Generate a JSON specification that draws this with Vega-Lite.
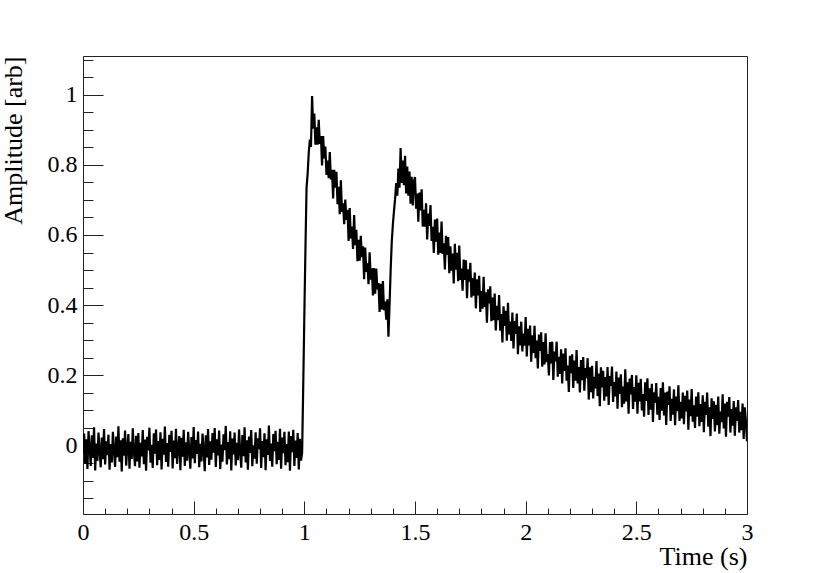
{
"$schema": "https://vega.github.io/schema/vega-lite/v6.json",
"autosize": "none",
"width": 664,
"height": 458,
"padding": {"left": 83, "top": 56, "right": 83, "bottom": 59},
"background": "white",
"config": {
  "view": {"stroke": "#222", "strokeWidth": 1},
  "axis": {"labelFont": "Liberation Serif", "titleFont": "Liberation Serif", "grid": false, "domain": false, "labelColor": "#000", "titleColor": "#000", "tickColor": "#222", "tickWidth": 1}
},
"data": {"values": [
{"t":0,"a":-0.021},{"t":0.005,"a":0.034},{"t":0.01,"a":-0.052},{"t":0.015,"a":0.018},{"t":0.02,"a":-0.067},{"t":0.025,"a":0.041},{"t":0.03,"a":-0.008},{"t":0.035,"a":-0.058},{"t":0.04,"a":0.029},{"t":0.045,"a":-0.035},
{"t":0.05,"a":0.052},{"t":0.055,"a":-0.071},{"t":0.06,"a":0.006},{"t":0.065,"a":-0.044},{"t":0.07,"a":0.037},{"t":0.075,"a":-0.016},{"t":0.08,"a":-0.062},{"t":0.085,"a":0.023},{"t":0.09,"a":-0.039},{"t":0.095,"a":0.047},
{"t":0.1,"a":-0.054},{"t":0.105,"a":0.012},{"t":0.11,"a":-0.027},{"t":0.115,"a":0.031},{"t":0.12,"a":-0.069},{"t":0.125,"a":0.004},{"t":0.13,"a":-0.048},{"t":0.135,"a":0.039},{"t":0.14,"a":-0.012},{"t":0.145,"a":-0.061},
{"t":0.15,"a":0.026},{"t":0.155,"a":-0.033},{"t":0.16,"a":0.055},{"t":0.165,"a":-0.046},{"t":0.17,"a":0.015},{"t":0.175,"a":-0.074},{"t":0.18,"a":0.021},{"t":0.185,"a":-0.029},{"t":0.19,"a":0.043},{"t":0.195,"a":-0.057},
{"t":0.2,"a":-0.004},{"t":0.205,"a":0.033},{"t":0.21,"a":-0.066},{"t":0.215,"a":0.011},{"t":0.22,"a":-0.038},{"t":0.225,"a":0.049},{"t":0.23,"a":-0.019},{"t":0.235,"a":-0.059},{"t":0.24,"a":0.028},{"t":0.245,"a":-0.045},
{"t":0.25,"a":0.036},{"t":0.255,"a":-0.063},{"t":0.26,"a":0.008},{"t":0.265,"a":-0.031},{"t":0.27,"a":0.044},{"t":0.275,"a":-0.053},{"t":0.28,"a":0.017},{"t":0.285,"a":-0.072},{"t":0.29,"a":0.025},{"t":0.295,"a":-0.014},
{"t":0.3,"a":0.051},{"t":0.305,"a":-0.049},{"t":0.31,"a":0.002},{"t":0.315,"a":-0.064},{"t":0.32,"a":0.035},{"t":0.325,"a":-0.023},{"t":0.33,"a":0.046},{"t":0.335,"a":-0.056},{"t":0.34,"a":0.013},{"t":0.345,"a":-0.041},
{"t":0.35,"a":0.038},{"t":0.355,"a":-0.068},{"t":0.36,"a":0.019},{"t":0.365,"a":-0.026},{"t":0.37,"a":0.054},{"t":0.375,"a":-0.047},{"t":0.38,"a":0.007},{"t":0.385,"a":-0.06},{"t":0.39,"a":0.031},{"t":0.395,"a":-0.018},
{"t":0.4,"a":0.042},{"t":0.405,"a":-0.065},{"t":0.41,"a":0.014},{"t":0.415,"a":-0.036},{"t":0.42,"a":0.048},{"t":0.425,"a":-0.052},{"t":0.43,"a":-0.003},{"t":0.435,"a":0.027},{"t":0.44,"a":-0.07},{"t":0.445,"a":0.022},
{"t":0.45,"a":-0.032},{"t":0.455,"a":0.045},{"t":0.46,"a":-0.058},{"t":0.465,"a":0.009},{"t":0.47,"a":-0.043},{"t":0.475,"a":0.039},{"t":0.48,"a":-0.015},{"t":0.485,"a":-0.066},{"t":0.49,"a":0.024},{"t":0.495,"a":-0.037},
{"t":0.5,"a":0.053},{"t":0.505,"a":-0.05},{"t":0.51,"a":0.016},{"t":0.515,"a":-0.024},{"t":0.52,"a":0.04},{"t":0.525,"a":-0.062},{"t":0.53,"a":0.005},{"t":0.535,"a":-0.045},{"t":0.54,"a":0.034},{"t":0.545,"a":-0.011},
{"t":0.55,"a":-0.073},{"t":0.555,"a":0.029},{"t":0.56,"a":-0.034},{"t":0.565,"a":0.047},{"t":0.57,"a":-0.055},{"t":0.575,"a":0.012},{"t":0.58,"a":-0.04},{"t":0.585,"a":0.036},{"t":0.59,"a":-0.02},{"t":0.595,"a":0.05},
{"t":0.6,"a":-0.061},{"t":0.605,"a":0.018},{"t":0.61,"a":-0.028},{"t":0.615,"a":0.043},{"t":0.62,"a":-0.067},{"t":0.625,"a":0.003},{"t":0.63,"a":-0.046},{"t":0.635,"a":0.032},{"t":0.64,"a":-0.013},{"t":0.645,"a":0.056},
{"t":0.65,"a":-0.054},{"t":0.655,"a":0.01},{"t":0.66,"a":-0.039},{"t":0.665,"a":0.041},{"t":0.67,"a":-0.071},{"t":0.675,"a":0.02},{"t":0.68,"a":-0.025},{"t":0.685,"a":0.037},{"t":0.69,"a":-0.057},{"t":0.695,"a":0.008},
{"t":0.7,"a":-0.042},{"t":0.705,"a":0.046},{"t":0.71,"a":-0.017},{"t":0.715,"a":-0.063},{"t":0.72,"a":0.03},{"t":0.725,"a":-0.03},{"t":0.73,"a":0.052},{"t":0.735,"a":-0.048},{"t":0.74,"a":0.015},{"t":0.745,"a":-0.069},
{"t":0.75,"a":0.026},{"t":0.755,"a":-0.021},{"t":0.76,"a":0.044},{"t":0.765,"a":-0.059},{"t":0.77,"a":0.001},{"t":0.775,"a":-0.037},{"t":0.78,"a":0.038},{"t":0.785,"a":-0.052},{"t":0.79,"a":0.021},{"t":0.795,"a":-0.01},
{"t":0.8,"a":0.049},{"t":0.805,"a":-0.064},{"t":0.81,"a":0.013},{"t":0.815,"a":-0.033},{"t":0.82,"a":0.035},{"t":0.825,"a":-0.07},{"t":0.83,"a":0.018},{"t":0.835,"a":-0.027},{"t":0.84,"a":0.057},{"t":0.845,"a":-0.044},
{"t":0.85,"a":0.006},{"t":0.855,"a":-0.06},{"t":0.86,"a":0.033},{"t":0.865,"a":-0.016},{"t":0.87,"a":0.042},{"t":0.875,"a":-0.053},{"t":0.88,"a":0.011},{"t":0.885,"a":-0.041},{"t":0.89,"a":0.048},{"t":0.895,"a":-0.066},
{"t":0.9,"a":0.023},{"t":0.905,"a":-0.022},{"t":0.91,"a":0.039},{"t":0.915,"a":-0.056},{"t":0.92,"a":0.004},{"t":0.925,"a":-0.047},{"t":0.93,"a":0.04},{"t":0.935,"a":-0.072},{"t":0.94,"a":0.027},{"t":0.945,"a":-0.019},
{"t":0.95,"a":0.045},{"t":0.955,"a":-0.058},{"t":0.96,"a":0.014},{"t":0.965,"a":-0.035},{"t":0.97,"a":0.036},{"t":0.975,"a":-0.068},{"t":0.98,"a":0.019},{"t":0.985,"a":-0.043},{"t":0.99,"a":-0.02},{"t":0.995,"a":0.17},
{"t":1,"a":0.37},{"t":1.005,"a":0.56},{"t":1.01,"a":0.735},{"t":1.015,"a":0.775},{"t":1.02,"a":0.835},{"t":1.025,"a":0.872},{"t":1.03,"a":0.851},{"t":1.035,"a":0.996},{"t":1.04,"a":0.903},{"t":1.045,"a":0.946},
{"t":1.05,"a":0.857},{"t":1.055,"a":0.907},{"t":1.06,"a":0.857},{"t":1.065,"a":0.928},{"t":1.07,"a":0.86},{"t":1.075,"a":0.882},{"t":1.08,"a":0.798},{"t":1.085,"a":0.882},{"t":1.09,"a":0.818},{"t":1.095,"a":0.852},
{"t":1.1,"a":0.771},{"t":1.105,"a":0.812},{"t":1.11,"a":0.762},{"t":1.115,"a":0.836},{"t":1.12,"a":0.758},{"t":1.125,"a":0.786},{"t":1.13,"a":0.704},{"t":1.135,"a":0.786},{"t":1.14,"a":0.735},{"t":1.145,"a":0.78},
{"t":1.15,"a":0.688},{"t":1.155,"a":0.737},{"t":1.16,"a":0.659},{"t":1.165,"a":0.756},{"t":1.17,"a":0.666},{"t":1.175,"a":0.69},{"t":1.18,"a":0.631},{"t":1.185,"a":0.701},{"t":1.19,"a":0.643},{"t":1.195,"a":0.672},
{"t":1.2,"a":0.583},{"t":1.205,"a":0.677},{"t":1.21,"a":0.59},{"t":1.215,"a":0.624},{"t":1.22,"a":0.56},{"t":1.225,"a":0.657},{"t":1.23,"a":0.571},{"t":1.235,"a":0.615},{"t":1.24,"a":0.525},{"t":1.245,"a":0.586},
{"t":1.25,"a":0.527},{"t":1.255,"a":0.598},{"t":1.26,"a":0.537},{"t":1.265,"a":0.568},{"t":1.27,"a":0.474},{"t":1.275,"a":0.564},{"t":1.28,"a":0.495},{"t":1.285,"a":0.519},{"t":1.29,"a":0.46},{"t":1.295,"a":0.551},
{"t":1.3,"a":0.473},{"t":1.305,"a":0.505},{"t":1.31,"a":0.428},{"t":1.315,"a":0.506},{"t":1.32,"a":0.433},{"t":1.325,"a":0.504},{"t":1.33,"a":0.445},{"t":1.335,"a":0.463},{"t":1.34,"a":0.381},{"t":1.345,"a":0.461},
{"t":1.35,"a":0.388},{"t":1.355,"a":0.469},{"t":1.36,"a":0.386},{"t":1.365,"a":0.41},{"t":1.37,"a":0.359},{"t":1.375,"a":0.417},{"t":1.38,"a":0.31},{"t":1.385,"a":0.4},{"t":1.39,"a":0.5},{"t":1.395,"a":0.58},
{"t":1.4,"a":0.63},{"t":1.405,"a":0.668},{"t":1.41,"a":0.702},{"t":1.415,"a":0.748},{"t":1.42,"a":0.712},{"t":1.425,"a":0.789},{"t":1.43,"a":0.735},{"t":1.435,"a":0.848},{"t":1.44,"a":0.748},{"t":1.445,"a":0.812},
{"t":1.45,"a":0.742},{"t":1.455,"a":0.826},{"t":1.46,"a":0.718},{"t":1.465,"a":0.795},{"t":1.47,"a":0.712},{"t":1.475,"a":0.781},{"t":1.48,"a":0.689},{"t":1.485,"a":0.766},{"t":1.49,"a":0.684},{"t":1.495,"a":0.752},
{"t":1.5,"a":0.765},{"t":1.505,"a":0.675},{"t":1.51,"a":0.718},{"t":1.515,"a":0.638},{"t":1.52,"a":0.721},{"t":1.525,"a":0.67},{"t":1.53,"a":0.73},{"t":1.535,"a":0.624},{"t":1.54,"a":0.672},{"t":1.545,"a":0.624},
{"t":1.55,"a":0.69},{"t":1.555,"a":0.587},{"t":1.56,"a":0.661},{"t":1.565,"a":0.626},{"t":1.57,"a":0.685},{"t":1.575,"a":0.583},{"t":1.58,"a":0.623},{"t":1.585,"a":0.549},{"t":1.59,"a":0.644},{"t":1.595,"a":0.581},
{"t":1.6,"a":0.647},{"t":1.605,"a":0.544},{"t":1.61,"a":0.607},{"t":1.615,"a":0.549},{"t":1.62,"a":0.638},{"t":1.625,"a":0.546},{"t":1.63,"a":0.576},{"t":1.635,"a":0.502},{"t":1.64,"a":0.598},{"t":1.645,"a":0.543},
{"t":1.65,"a":0.594},{"t":1.655,"a":0.491},{"t":1.66,"a":0.568},{"t":1.665,"a":0.498},{"t":1.67,"a":0.547},{"t":1.675,"a":0.462},{"t":1.68,"a":0.575},{"t":1.685,"a":0.501},{"t":1.69,"a":0.549},{"t":1.695,"a":0.468},
{"t":1.7,"a":0.57},{"t":1.705,"a":0.472},{"t":1.71,"a":0.504},{"t":1.715,"a":0.441},{"t":1.72,"a":0.53},{"t":1.725,"a":0.472},{"t":1.73,"a":0.528},{"t":1.735,"a":0.42},{"t":1.74,"a":0.502},{"t":1.745,"a":0.467},
{"t":1.75,"a":0.521},{"t":1.755,"a":0.422},{"t":1.76,"a":0.477},{"t":1.765,"a":0.427},{"t":1.77,"a":0.493},{"t":1.775,"a":0.391},{"t":1.78,"a":0.474},{"t":1.785,"a":0.428},{"t":1.79,"a":0.484},{"t":1.795,"a":0.381},
{"t":1.8,"a":0.44},{"t":1.805,"a":0.39},{"t":1.81,"a":0.481},{"t":1.815,"a":0.395},{"t":1.82,"a":0.437},{"t":1.825,"a":0.35},{"t":1.83,"a":0.445},{"t":1.835,"a":0.405},{"t":1.84,"a":0.454},{"t":1.845,"a":0.354},
{"t":1.85,"a":0.422},{"t":1.855,"a":0.357},{"t":1.86,"a":0.433},{"t":1.865,"a":0.328},{"t":1.87,"a":0.398},{"t":1.875,"a":0.357},{"t":1.88,"a":0.429},{"t":1.885,"a":0.327},{"t":1.89,"a":0.375},{"t":1.895,"a":0.294},
{"t":1.9,"a":0.397},{"t":1.905,"a":0.341},{"t":1.91,"a":0.384},{"t":1.915,"a":0.299},{"t":1.92,"a":0.407},{"t":1.925,"a":0.317},{"t":1.93,"a":0.353},{"t":1.935,"a":0.298},{"t":1.94,"a":0.379},{"t":1.945,"a":0.277},
{"t":1.95,"a":0.355},{"t":1.955,"a":0.318},{"t":1.96,"a":0.376},{"t":1.965,"a":0.26},{"t":1.97,"a":0.34},{"t":1.975,"a":0.285},{"t":1.98,"a":0.353},{"t":1.985,"a":0.268},{"t":1.99,"a":0.319},{"t":1.995,"a":0.285},
{"t":2,"a":0.366},{"t":2.005,"a":0.254},{"t":2.01,"a":0.333},{"t":2.015,"a":0.285},{"t":2.02,"a":0.342},{"t":2.025,"a":0.239},{"t":2.03,"a":0.314},{"t":2.035,"a":0.264},{"t":2.04,"a":0.341},{"t":2.045,"a":0.249},
{"t":2.05,"a":0.299},{"t":2.055,"a":0.22},{"t":2.06,"a":0.316},{"t":2.065,"a":0.27},{"t":2.07,"a":0.323},{"t":2.075,"a":0.225},{"t":2.08,"a":0.295},{"t":2.085,"a":0.231},{"t":2.09,"a":0.32},{"t":2.095,"a":0.238},
{"t":2.1,"a":0.261},{"t":2.105,"a":0.2},{"t":2.11,"a":0.295},{"t":2.115,"a":0.234},{"t":2.12,"a":0.296},{"t":2.125,"a":0.187},{"t":2.13,"a":0.268},{"t":2.135,"a":0.24},{"t":2.14,"a":0.296},{"t":2.145,"a":0.196},
{"t":2.15,"a":0.253},{"t":2.155,"a":0.204},{"t":2.16,"a":0.274},{"t":2.165,"a":0.177},{"t":2.17,"a":0.262},{"t":2.175,"a":0.213},{"t":2.18,"a":0.277},{"t":2.185,"a":0.185},{"t":2.19,"a":0.228},{"t":2.195,"a":0.153},
{"t":2.2,"a":0.256},{"t":2.205,"a":0.206},{"t":2.21,"a":0.26},{"t":2.215,"a":0.164},{"t":2.22,"a":0.242},{"t":2.225,"a":0.185},{"t":2.23,"a":0.272},{"t":2.235,"a":0.177},{"t":2.24,"a":0.224},{"t":2.245,"a":0.151},
{"t":2.25,"a":0.244},{"t":2.255,"a":0.186},{"t":2.26,"a":0.252},{"t":2.265,"a":0.156},{"t":2.27,"a":0.221},{"t":2.275,"a":0.192},{"t":2.28,"a":0.249},{"t":2.285,"a":0.131},{"t":2.29,"a":0.223},{"t":2.295,"a":0.152},
{"t":2.3,"a":0.227},{"t":2.305,"a":0.134},{"t":2.31,"a":0.196},{"t":2.315,"a":0.163},{"t":2.32,"a":0.241},{"t":2.325,"a":0.141},{"t":2.33,"a":0.205},{"t":2.335,"a":0.112},{"t":2.34,"a":0.223},{"t":2.345,"a":0.166},
{"t":2.35,"a":0.213},{"t":2.355,"a":0.128},{"t":2.36,"a":0.195},{"t":2.365,"a":0.14},{"t":2.37,"a":0.224},{"t":2.375,"a":0.116},{"t":2.38,"a":0.198},{"t":2.385,"a":0.17},{"t":2.39,"a":0.225},{"t":2.395,"a":0.124},
{"t":2.4,"a":0.181},{"t":2.405,"a":0.14},{"t":2.41,"a":0.211},{"t":2.415,"a":0.105},{"t":2.42,"a":0.194},{"t":2.425,"a":0.147},{"t":2.43,"a":0.203},{"t":2.435,"a":0.109},{"t":2.44,"a":0.168},{"t":2.445,"a":0.119},
{"t":2.45,"a":0.217},{"t":2.455,"a":0.126},{"t":2.46,"a":0.18},{"t":2.465,"a":0.091},{"t":2.47,"a":0.191},{"t":2.475,"a":0.146},{"t":2.48,"a":0.201},{"t":2.485,"a":0.104},{"t":2.49,"a":0.167},{"t":2.495,"a":0.125},
{"t":2.5,"a":0.2},{"t":2.505,"a":0.091},{"t":2.51,"a":0.179},{"t":2.515,"a":0.126},{"t":2.52,"a":0.19},{"t":2.525,"a":0.1},{"t":2.53,"a":0.147},{"t":2.535,"a":0.082},{"t":2.54,"a":0.18},{"t":2.545,"a":0.127},
{"t":2.55,"a":0.192},{"t":2.555,"a":0.087},{"t":2.56,"a":0.163},{"t":2.565,"a":0.102},{"t":2.57,"a":0.176},{"t":2.575,"a":0.067},{"t":2.58,"a":0.152},{"t":2.585,"a":0.122},{"t":2.59,"a":0.178},{"t":2.595,"a":0.088},
{"t":2.6,"a":0.139},{"t":2.605,"a":0.073},{"t":2.61,"a":0.164},{"t":2.615,"a":0.099},{"t":2.62,"a":0.18},{"t":2.625,"a":0.086},{"t":2.63,"a":0.151},{"t":2.635,"a":0.059},{"t":2.64,"a":0.154},{"t":2.645,"a":0.116},
{"t":2.65,"a":0.169},{"t":2.655,"a":0.07},{"t":2.66,"a":0.133},{"t":2.665,"a":0.088},{"t":2.67,"a":0.16},{"t":2.675,"a":0.058},{"t":2.68,"a":0.14},{"t":2.685,"a":0.098},{"t":2.69,"a":0.172},{"t":2.695,"a":0.07},
{"t":2.7,"a":0.125},{"t":2.705,"a":0.077},{"t":2.71,"a":0.151},{"t":2.715,"a":0.061},{"t":2.72,"a":0.142},{"t":2.725,"a":0.097},{"t":2.73,"a":0.157},{"t":2.735,"a":0.045},{"t":2.74,"a":0.131},{"t":2.745,"a":0.084},
{"t":2.75,"a":0.161},{"t":2.755,"a":0.068},{"t":2.76,"a":0.115},{"t":2.765,"a":0.05},{"t":2.77,"a":0.14},{"t":2.775,"a":0.082},{"t":2.78,"a":0.152},{"t":2.785,"a":0.055},{"t":2.79,"a":0.118},{"t":2.795,"a":0.067},
{"t":2.8,"a":0.143},{"t":2.805,"a":0.038},{"t":2.81,"a":0.125},{"t":2.815,"a":0.087},{"t":2.82,"a":0.151},{"t":2.825,"a":0.054},{"t":2.83,"a":0.109},{"t":2.835,"a":0.027},{"t":2.84,"a":0.135},{"t":2.845,"a":0.076},
{"t":2.85,"a":0.126},{"t":2.855,"a":0.04},{"t":2.86,"a":0.116},{"t":2.865,"a":0.058},{"t":2.87,"a":0.14},{"t":2.875,"a":0.034},{"t":2.88,"a":0.097},{"t":2.885,"a":0.067},{"t":2.89,"a":0.146},{"t":2.895,"a":0.049},
{"t":2.9,"a":0.12},{"t":2.905,"a":0.025},{"t":2.91,"a":0.125},{"t":2.915,"a":0.082},{"t":2.92,"a":0.138},{"t":2.925,"a":0.037},{"t":2.93,"a":0.104},{"t":2.935,"a":0.057},{"t":2.94,"a":0.127},{"t":2.945,"a":0.028},
{"t":2.95,"a":0.109},{"t":2.955,"a":0.07},{"t":2.96,"a":0.13},{"t":2.965,"a":0.037},{"t":2.97,"a":0.096},{"t":2.975,"a":0.044},{"t":2.98,"a":0.12},{"t":2.985,"a":0.019},{"t":2.99,"a":0.109},{"t":2.995,"a":0.071},
{"t":3,"a":0.012}
]},
"layer": [
  {
    "mark": {"type": "line", "color": "#000", "strokeWidth": 2.2, "clip": true},
    "encoding": {
      "x": {"field": "t", "type": "quantitative", "scale": {"domain": [0, 3], "nice": false, "zero": false},
        "axis": {"orient": "bottom", "values": [0, 0.5, 1, 1.5, 2, 2.5, 3], "format": ".1~f", "ticks": false, "labelFontSize": 24, "labelPadding": 6, "labelFlush": false, "labelOverlap": false,
          "title": "Time (s)", "titleFontSize": 26, "titleFontWeight": "normal", "titleAnchor": "end", "titleAlign": "right", "titleBaseline": "alphabetic", "titleX": 664, "titleY": 50}},
      "y": {"field": "a", "type": "quantitative", "scale": {"domain": [-0.195, 1.11], "nice": false, "zero": false},
        "axis": {"orient": "left", "values": [0, 0.2, 0.4, 0.6, 0.8, 1], "format": ".1~f", "ticks": false, "labelFontSize": 24, "labelPadding": 6, "labelFlush": false, "labelOverlap": false,
          "title": "Amplitude [arb]", "titleFontSize": 26, "titleFontWeight": "normal", "titleAnchor": "end", "titleAlign": "right", "titleBaseline": "alphabetic", "titleAngle": 270, "titleX": -61.5, "titleY": 0}}
    }
  },
  {
    "mark": {"type": "line", "strokeOpacity": 0},
    "encoding": {
      "x": {"field": "t", "type": "quantitative", "scale": {"domain": [0, 3], "nice": false, "zero": false},
        "axis": {"orient": "bottom", "values": [0, 0.5, 1, 1.5, 2, 2.5, 3], "labels": false, "tickSize": -13, "title": null}},
      "y": {"field": "a", "type": "quantitative", "scale": {"domain": [-0.195, 1.11], "nice": false, "zero": false},
        "axis": {"orient": "left", "values": [0, 0.2, 0.4, 0.6, 0.8, 1], "labels": false, "tickSize": -20, "title": null}}
    }
  },
  {
    "mark": {"type": "line", "strokeOpacity": 0},
    "encoding": {
      "x": {"field": "t", "type": "quantitative", "scale": {"domain": [0, 3], "nice": false, "zero": false},
        "axis": {"orient": "bottom", "values": [0.1, 0.2, 0.3, 0.4, 0.6, 0.7, 0.8, 0.9, 1.1, 1.2, 1.3, 1.4, 1.6, 1.7, 1.8, 1.9, 2.1, 2.2, 2.3, 2.4, 2.6, 2.7, 2.8, 2.9], "labels": false, "tickSize": -6, "title": null}},
      "y": {"field": "a", "type": "quantitative", "scale": {"domain": [-0.195, 1.11], "nice": false, "zero": false},
        "axis": {"orient": "left", "values": [-0.15, -0.1, -0.05, 0.05, 0.1, 0.15, 0.25, 0.3, 0.35, 0.45, 0.5, 0.55, 0.65, 0.7, 0.75, 0.85, 0.9, 0.95, 1.05, 1.1], "labels": false, "tickSize": -10, "title": null}}
    }
  }
],
"resolve": {"axis": {"x": "independent", "y": "independent"}}
}
